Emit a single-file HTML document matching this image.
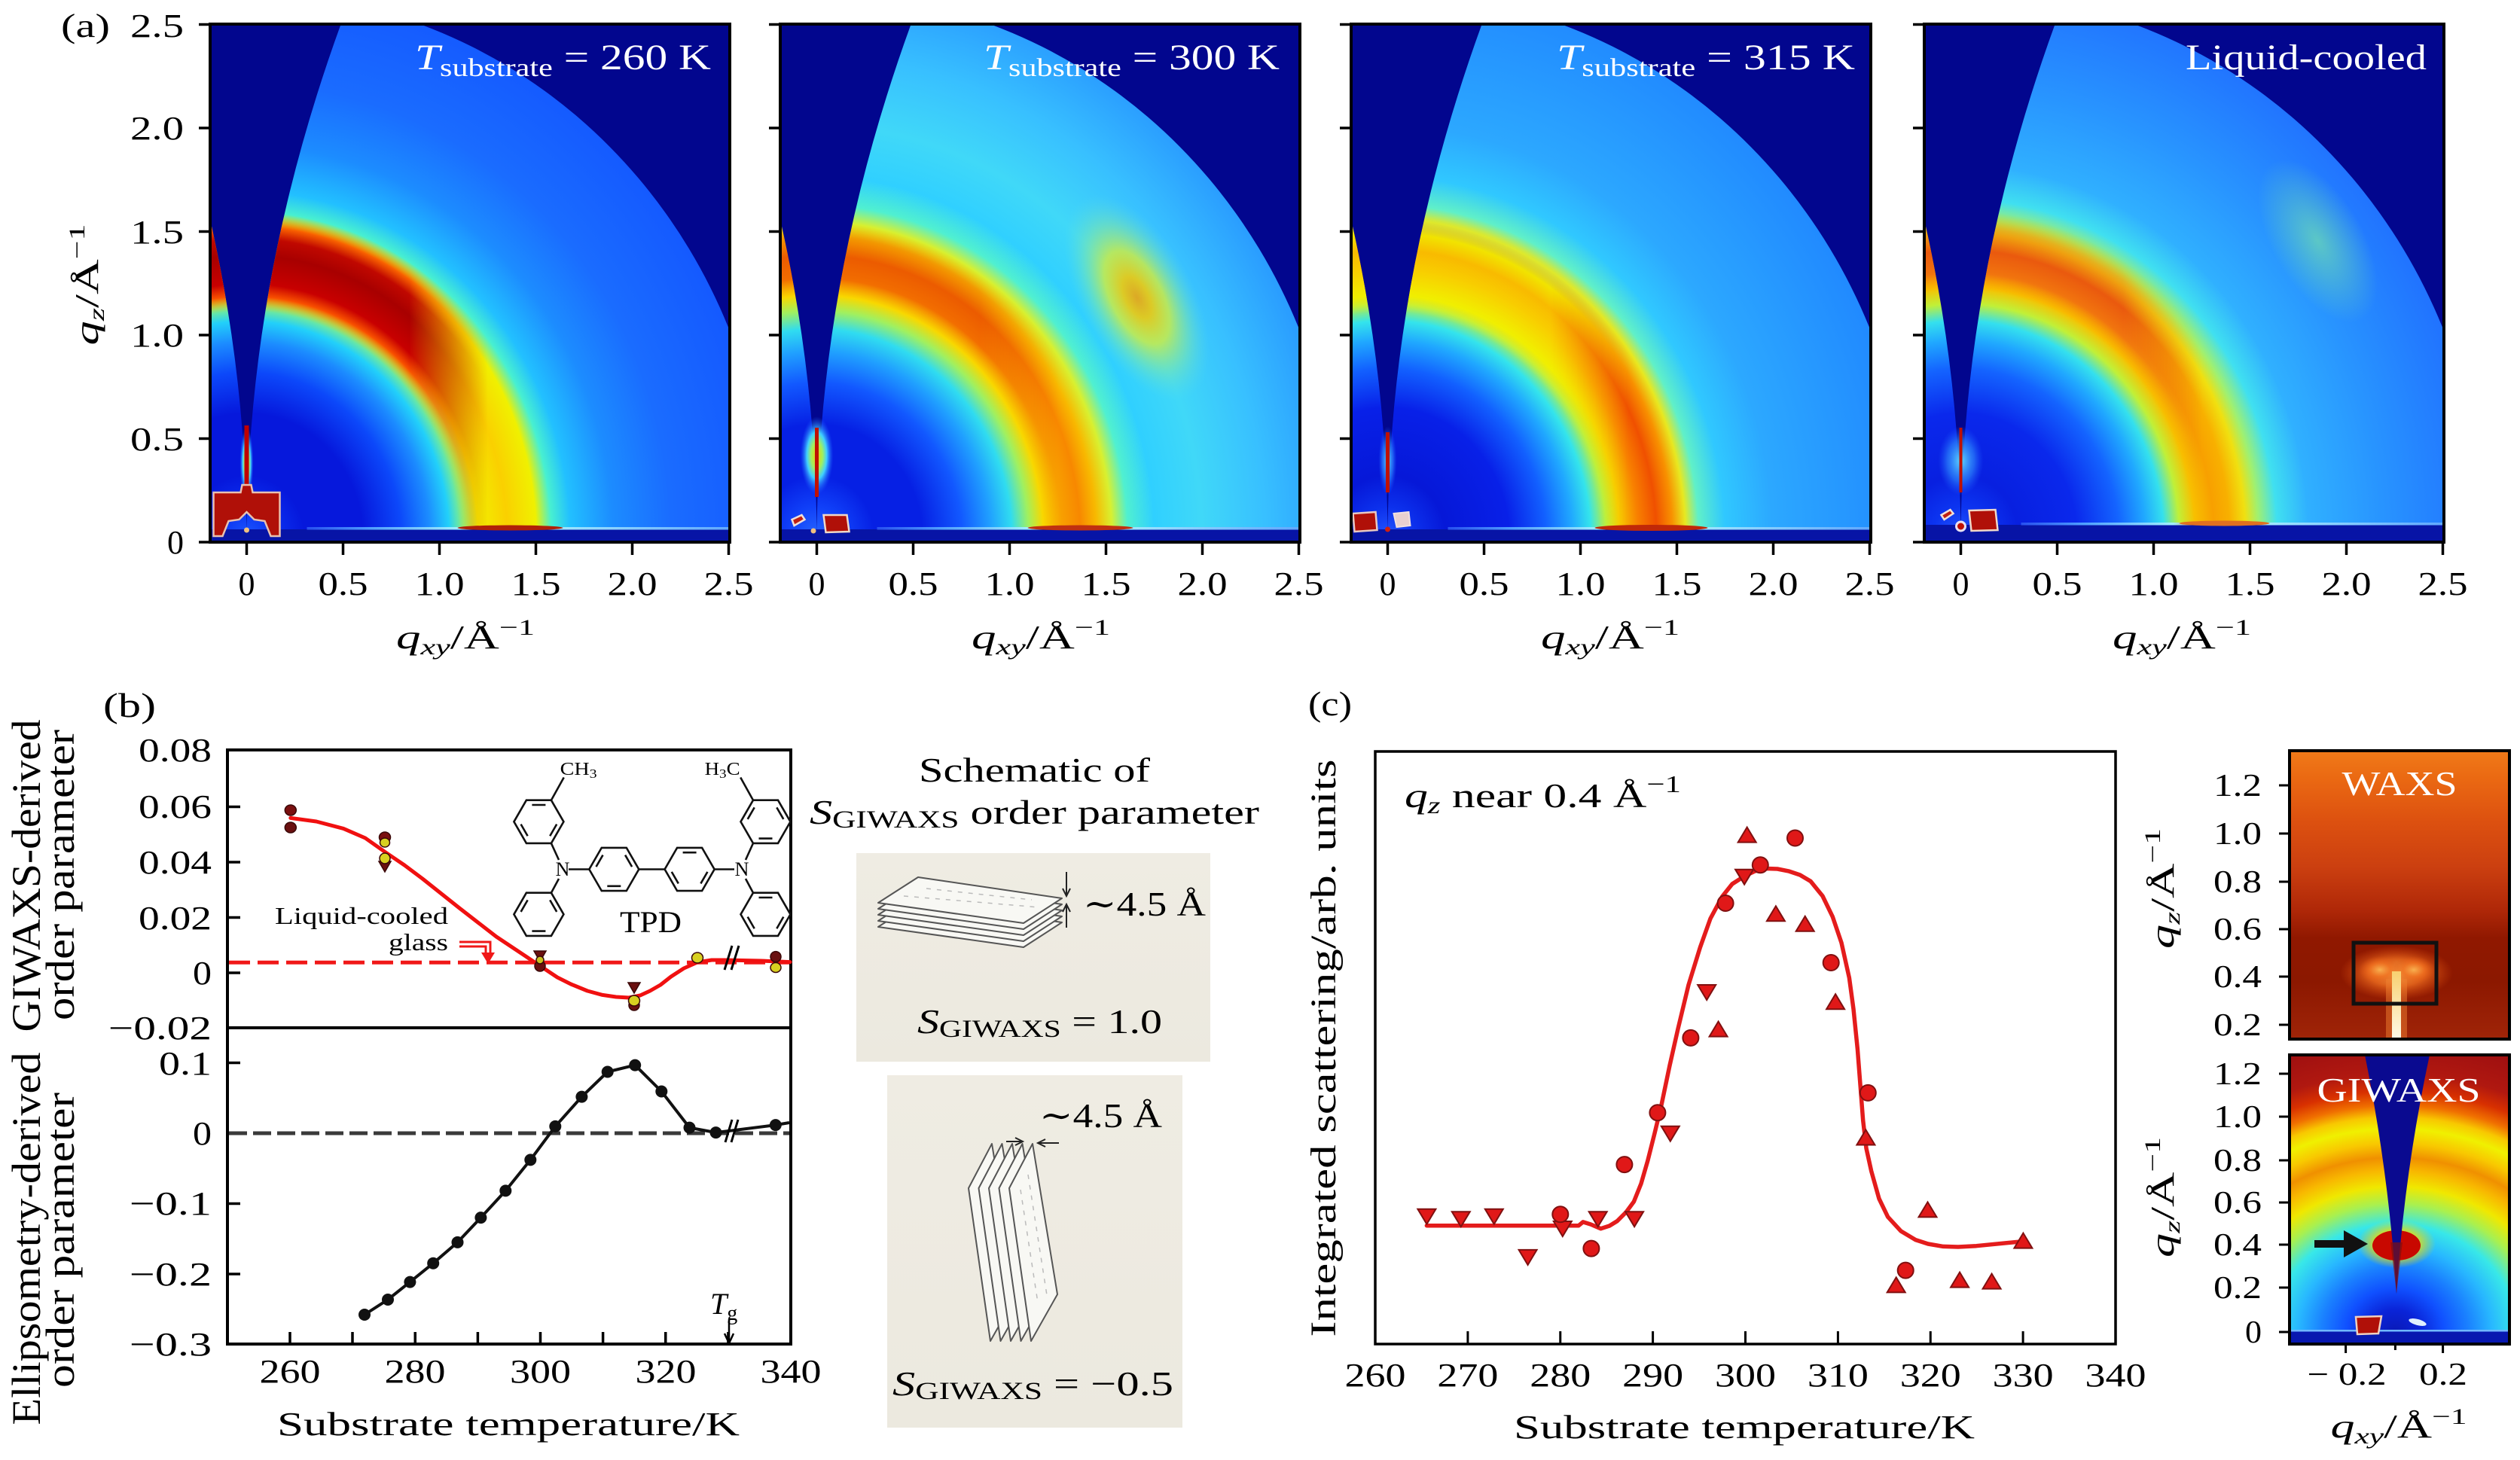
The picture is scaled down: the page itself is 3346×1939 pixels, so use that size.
<!DOCTYPE html>
<html><head><meta charset="utf-8">
<style>
html,body{margin:0;padding:0;background:#fff;}
svg{display:block;}
text{font-family:"Liberation Serif","DejaVu Serif",serif;}
</style></head>
<body>
<svg xmlns="http://www.w3.org/2000/svg" width="3346" height="1939" viewBox="0 0 3346 1939">
<defs>
 <clipPath id="cpA"><rect x="-48.5" y="32" width="690" height="688"/></clipPath>
 <path id="reg" d="M-200,720 L-200,32.5 L-125,32.5 Q0,376.25 0,720 Q0,376.25 125,32.5 L130,20 L194,20 A695,729 0 0 1 695,720 Z"/>
 <linearGradient id="lm" gradientUnits="userSpaceOnUse" x1="0" y1="0" x2="400" y2="0">
  <stop offset="0" stop-color="#fff"/><stop offset="0.54" stop-color="#fff"/><stop offset="0.8" stop-color="#000"/><stop offset="1" stop-color="#000"/>
 </linearGradient>
 <mask id="mk" maskUnits="userSpaceOnUse" x="-300" y="0" width="1100" height="760"><rect x="-300" y="0" width="1100" height="760" fill="url(#lm)"/></mask>

 <radialGradient id="g1" gradientUnits="userSpaceOnUse" cx="0" cy="714" r="700" fx="0" fy="714" gradientTransform="translate(0 714) scale(1 1.07) translate(0 -714)">
  <stop offset="0" stop-color="#1c58ff"/><stop offset="0.055" stop-color="#0a30f0"/><stop offset="0.11" stop-color="#0618dc"/><stop offset="0.22" stop-color="#0618dc"/>
  <stop offset="0.293" stop-color="#0c48fa"/><stop offset="0.347" stop-color="#1c8cff"/><stop offset="0.384" stop-color="#22d0fa"/><stop offset="0.413" stop-color="#8ef478"/>
  <stop offset="0.439" stop-color="#f2f000"/><stop offset="0.494" stop-color="#fad000"/><stop offset="0.549" stop-color="#f0f000"/><stop offset="0.578" stop-color="#48f0d0"/>
  <stop offset="0.614" stop-color="#22c0ff"/><stop offset="0.695" stop-color="#1c8cff"/><stop offset="0.805" stop-color="#1a6cff"/><stop offset="1" stop-color="#1458ff"/>
 </radialGradient>
 <radialGradient id="o1" gradientUnits="userSpaceOnUse" cx="0" cy="714" r="700" fx="0" fy="714" gradientTransform="translate(0 714) scale(1 1.07) translate(0 -714)">
  <stop offset="0.402" stop-color="#ffc000" stop-opacity="0"/><stop offset="0.428" stop-color="#f85000"/><stop offset="0.45" stop-color="#c80000"/>
  <stop offset="0.5" stop-color="#a80000"/><stop offset="0.53" stop-color="#c00800"/><stop offset="0.552" stop-color="#f86000"/><stop offset="0.578" stop-color="#f8d000" stop-opacity="0"/>
 </radialGradient>

 <radialGradient id="g2" gradientUnits="userSpaceOnUse" cx="0" cy="714" r="700" fx="0" fy="714" gradientTransform="translate(0 714) scale(1 1.07) translate(0 -714)">
  <stop offset="0" stop-color="#2868ff"/><stop offset="0.055" stop-color="#1040f8"/><stop offset="0.11" stop-color="#0620e4"/><stop offset="0.2" stop-color="#0620e4"/>
  <stop offset="0.275" stop-color="#1258ff"/><stop offset="0.33" stop-color="#20a0ff"/><stop offset="0.37" stop-color="#30dcf0"/><stop offset="0.402" stop-color="#a0f060"/>
  <stop offset="0.43" stop-color="#f8d800"/><stop offset="0.465" stop-color="#f8a000"/><stop offset="0.5" stop-color="#f88800"/><stop offset="0.53" stop-color="#f8b800"/>
  <stop offset="0.56" stop-color="#d8f030"/><stop offset="0.59" stop-color="#50f0d0"/><stop offset="0.64" stop-color="#30d0ff"/><stop offset="0.73" stop-color="#40d8f8"/>
  <stop offset="0.85" stop-color="#38c0ff"/><stop offset="1" stop-color="#2898ff"/>
 </radialGradient>
 <radialGradient id="o2" gradientUnits="userSpaceOnUse" cx="0" cy="714" r="700" fx="0" fy="714" gradientTransform="translate(0 714) scale(1 1.07) translate(0 -714)">
  <stop offset="0.43" stop-color="#f8a000" stop-opacity="0"/><stop offset="0.46" stop-color="#f06000" stop-opacity="0.8"/><stop offset="0.5" stop-color="#e85000" stop-opacity="0.8"/>
  <stop offset="0.535" stop-color="#f08000" stop-opacity="0.6"/><stop offset="0.56" stop-color="#f0c000" stop-opacity="0"/>
 </radialGradient>

 <radialGradient id="g3" gradientUnits="userSpaceOnUse" cx="0" cy="714" r="700" fx="0" fy="714" gradientTransform="translate(0 714) scale(1 1.07) translate(0 -714)">
  <stop offset="0" stop-color="#2458ff"/><stop offset="0.055" stop-color="#0c30ec"/><stop offset="0.11" stop-color="#0618d8"/><stop offset="0.23" stop-color="#0820e8"/>
  <stop offset="0.3" stop-color="#1260ff"/><stop offset="0.35" stop-color="#20a8ff"/><stop offset="0.385" stop-color="#34e4ec"/><stop offset="0.415" stop-color="#b8f040"/>
  <stop offset="0.44" stop-color="#f8c800"/><stop offset="0.475" stop-color="#f88000"/><stop offset="0.51" stop-color="#f05000"/><stop offset="0.54" stop-color="#f89000"/>
  <stop offset="0.565" stop-color="#e8e820"/><stop offset="0.59" stop-color="#60f0c8"/><stop offset="0.64" stop-color="#30c8ff"/><stop offset="0.73" stop-color="#2ca8ff"/>
  <stop offset="1" stop-color="#2088ff"/>
 </radialGradient>
 <radialGradient id="o3" gradientUnits="userSpaceOnUse" cx="0" cy="714" r="700" fx="0" fy="714" gradientTransform="translate(0 714) scale(1 1.07) translate(0 -714)">
  <stop offset="0.4" stop-color="#d0f040" stop-opacity="0"/><stop offset="0.43" stop-color="#f0f000" stop-opacity="0.95"/><stop offset="0.48" stop-color="#f8d000" stop-opacity="0.95"/>
  <stop offset="0.51" stop-color="#f8c000" stop-opacity="0.95"/><stop offset="0.54" stop-color="#f0e800" stop-opacity="0.95"/><stop offset="0.57" stop-color="#a0f080" stop-opacity="0"/>
 </radialGradient>

 <radialGradient id="g4" gradientUnits="userSpaceOnUse" cx="0" cy="714" r="700" fx="0" fy="714" gradientTransform="translate(0 714) scale(1 1.07) translate(0 -714)">
  <stop offset="0" stop-color="#2458ff"/><stop offset="0.055" stop-color="#0c34f0"/><stop offset="0.11" stop-color="#0820e0"/><stop offset="0.22" stop-color="#0a28ec"/>
  <stop offset="0.3" stop-color="#1464ff"/><stop offset="0.35" stop-color="#20a8ff"/><stop offset="0.385" stop-color="#34e0ee"/><stop offset="0.415" stop-color="#c0f038"/>
  <stop offset="0.445" stop-color="#f8c000"/><stop offset="0.48" stop-color="#f8a000"/><stop offset="0.51" stop-color="#f8b000"/><stop offset="0.54" stop-color="#f0e010"/>
  <stop offset="0.565" stop-color="#a0f070"/><stop offset="0.6" stop-color="#40e0f0"/><stop offset="0.66" stop-color="#30b0ff"/><stop offset="0.8" stop-color="#2894ff"/>
  <stop offset="1" stop-color="#2070ff"/>
 </radialGradient>
 <radialGradient id="o4" gradientUnits="userSpaceOnUse" cx="0" cy="714" r="700" fx="0" fy="714" gradientTransform="translate(0 714) scale(1 1.07) translate(0 -714)">
  <stop offset="0.44" stop-color="#f8a000" stop-opacity="0"/><stop offset="0.47" stop-color="#f07010" stop-opacity="0.9"/><stop offset="0.51" stop-color="#e85010" stop-opacity="0.9"/>
  <stop offset="0.55" stop-color="#f09010" stop-opacity="0.6"/><stop offset="0.58" stop-color="#f0c000" stop-opacity="0"/>
 </radialGradient>

 <radialGradient id="blob2">
  <stop offset="0" stop-color="#f8a000" stop-opacity="0.85"/><stop offset="0.2" stop-color="#f8c800" stop-opacity="0.85"/><stop offset="0.45" stop-color="#e8f020" stop-opacity="0.7"/>
  <stop offset="0.72" stop-color="#a0f080" stop-opacity="0.35"/><stop offset="1" stop-color="#60e0e0" stop-opacity="0"/>
 </radialGradient>
 <radialGradient id="blob4">
  <stop offset="0" stop-color="#80f0a0" stop-opacity="0.6"/><stop offset="1" stop-color="#80f0a0" stop-opacity="0"/>
 </radialGradient>
 <radialGradient id="halo">
  <stop offset="0" stop-color="#f0d000"/><stop offset="0.35" stop-color="#a0f060"/><stop offset="0.6" stop-color="#40d0ff"/><stop offset="1" stop-color="#2060ff" stop-opacity="0"/>
 </radialGradient>
 <radialGradient id="haloB">
  <stop offset="0" stop-color="#60d8ff"/><stop offset="0.6" stop-color="#3090ff" stop-opacity="0.6"/><stop offset="1" stop-color="#2060ff" stop-opacity="0"/>
 </radialGradient>
 <linearGradient id="hz" gradientUnits="userSpaceOnUse" x1="80" y1="0" x2="641.5" y2="0">
  <stop offset="0" stop-color="#2850f0"/><stop offset="0.15" stop-color="#50a0ff"/><stop offset="0.359" stop-color="#a0f0ff"/><stop offset="0.427" stop-color="#e08030"/>
  <stop offset="0.47" stop-color="#c03010"/><stop offset="0.518" stop-color="#e08030"/><stop offset="0.587" stop-color="#a0e8ff"/><stop offset="1" stop-color="#60a8ff"/>
 </linearGradient>

 <linearGradient id="waxs" x1="0" y1="0" x2="0" y2="1">
  <stop offset="0" stop-color="#f07a18"/><stop offset="0.1" stop-color="#ea6812"/><stop offset="0.25" stop-color="#dc5010"/><stop offset="0.4" stop-color="#cc4010"/>
  <stop offset="0.55" stop-color="#b02808"/><stop offset="0.65" stop-color="#901800"/><stop offset="0.8" stop-color="#8c1800"/><stop offset="1" stop-color="#a02408"/>
 </linearGradient>
 <radialGradient id="wglow">
  <stop offset="0" stop-color="#f8b050"/><stop offset="0.5" stop-color="#f07020" stop-opacity="0.8"/><stop offset="1" stop-color="#e05010" stop-opacity="0"/>
 </radialGradient>
 <linearGradient id="wstripe" x1="0" y1="0" x2="0" y2="1">
  <stop offset="0" stop-color="#f8d070"/><stop offset="1" stop-color="#fffbe8"/>
 </linearGradient>
 <radialGradient id="gix" gradientUnits="userSpaceOnUse" cx="3180" cy="1768" r="435" fx="3180" fy="1768" gradientTransform="translate(3180 1768) scale(1 0.884) translate(-3180 -1768)">
  <stop offset="0" stop-color="#0a1ab8"/><stop offset="0.074" stop-color="#0a24d8"/><stop offset="0.148" stop-color="#1050ff"/><stop offset="0.222" stop-color="#1a80ff"/>
  <stop offset="0.296" stop-color="#28b8ff"/><stop offset="0.37" stop-color="#38e8e8"/><stop offset="0.44" stop-color="#a8f050"/><stop offset="0.5" stop-color="#f0e800"/>
  <stop offset="0.555" stop-color="#f8b800"/><stop offset="0.6" stop-color="#f09000"/><stop offset="0.65" stop-color="#f8c800"/><stop offset="0.7" stop-color="#f0f000"/>
  <stop offset="0.74" stop-color="#f8c800"/><stop offset="0.78" stop-color="#f07000"/><stop offset="0.83" stop-color="#d83000"/><stop offset="0.89" stop-color="#b01810"/>
  <stop offset="1" stop-color="#a01010"/>
 </radialGradient>
 <radialGradient id="gblob">
  <stop offset="0" stop-color="#f8a000"/><stop offset="0.5" stop-color="#f0e000" stop-opacity="0.9"/><stop offset="1" stop-color="#f0e000" stop-opacity="0"/>
 </radialGradient>
 <linearGradient id="beige" x1="0" y1="0" x2="0" y2="1"><stop offset="0" stop-color="#efece3"/><stop offset="1" stop-color="#ece9df"/></linearGradient>

 <g id="hexA" fill="none" stroke="#111" stroke-width="2.6">
  <polygon points="-33,0 -16.5,-28.6 16.5,-28.6 33,0 16.5,28.6 -16.5,28.6"/>
  <path d="M-9,-22.3 L9,-22.3 M23.8,3.35 L14.8,18.96 M-14.8,18.96 L-23.8,3.35"/>
 </g>
 <g id="hexB" fill="none" stroke="#111" stroke-width="2.6">
  <polygon points="-33,0 -16.5,-28.6 16.5,-28.6 33,0 16.5,28.6 -16.5,28.6"/>
  <path d="M14.8,-18.96 L23.8,-3.35 M9,22.3 L-9,22.3 M-23.8,-3.35 L-14.8,-18.96"/>
 </g>
</defs>

<rect x="0" y="0" width="3346" height="1939" fill="#fff"/>

<!-- ===================== PANEL (a) ===================== -->
<g transform="translate(327.5,0)">
 <g clip-path="url(#cpA)">
  <rect x="-60" y="20" width="720" height="710" fill="#02068e"/>
  <use href="#reg" fill="url(#g1)"/>
  <use href="#reg" fill="url(#o1)" mask="url(#mk)"/>
  <rect x="-60" y="703" width="720" height="20" fill="#0714a6"/>
  <rect x="80" y="700" width="562" height="3.5" fill="url(#hz)"/>
  <ellipse cx="350" cy="701" rx="70" ry="3.5" fill="#b02008"/>
  <ellipse cx="0" cy="615" rx="9" ry="48" fill="url(#halo)"/>
  <rect x="-3" y="565" width="6" height="92" fill="#c00000"/>
  <path d="M-44,654 L-8,654 L-6,644 L6,644 L8,654 L44,654 L44,712 L32,712 L24,692 L10,690 L0,680 L-10,690 L-24,692 L-32,712 L-44,712 Z" fill="#b01008" stroke="#e8c0b0" stroke-width="2.5"/>
  <circle cx="0" cy="704" r="3.5" fill="#f0c080"/>
 </g>
 <text x="223.5" y="92" fill="#fff" font-size="48" textLength="393" lengthAdjust="spacingAndGlyphs"><tspan font-style="italic">T</tspan><tspan font-size="34" dy="9">substrate</tspan><tspan dy="-9"> = 260 K</tspan></text>
</g>

<g transform="translate(1084.5,0)">
 <g clip-path="url(#cpA)">
  <rect x="-60" y="20" width="720" height="710" fill="#02068e"/>
  <use href="#reg" fill="url(#g2)"/>
  <use href="#reg" fill="url(#o2)" mask="url(#mk)"/>
  <ellipse cx="425" cy="395" rx="75" ry="150" transform="rotate(-28 425 395)" fill="url(#blob2)"/>
  <rect x="-60" y="703" width="720" height="20" fill="#0714a6"/>
  <rect x="80" y="700" width="562" height="3.5" fill="url(#hz)"/>
  <ellipse cx="350" cy="701" rx="70" ry="3.5" fill="#c03010"/>
  <ellipse cx="0" cy="605" rx="22" ry="52" fill="url(#halo)"/>
  <rect x="-2.5" y="568" width="5" height="92" fill="#c01000"/>
  <path d="M9,684 L40,684 L43,706 L12,707 Z" fill="#b01008" stroke="#f0d8c8" stroke-width="2.5"/>
  <path d="M-33,690 L-20,684 L-16,690 L-30,698 Z" fill="#c02010" stroke="#f0e0d8" stroke-width="2.5"/>
  <circle cx="-4.5" cy="705" r="3.5" fill="#f0c080"/>
 </g>
 <text x="221.5" y="92" fill="#fff" font-size="48" textLength="393" lengthAdjust="spacingAndGlyphs"><tspan font-style="italic">T</tspan><tspan font-size="34" dy="9">substrate</tspan><tspan dy="-9"> = 300 K</tspan></text>
</g>

<g transform="translate(1842.5,0)">
 <g clip-path="url(#cpA)">
  <rect x="-60" y="20" width="720" height="710" fill="#02068e"/>
  <use href="#reg" fill="url(#g3)"/>
  <use href="#reg" fill="url(#o3)" mask="url(#mk)"/>
  <rect x="-60" y="703" width="720" height="20" fill="#0714a6"/>
  <rect x="80" y="700" width="562" height="3.5" fill="url(#hz)"/>
  <ellipse cx="350" cy="701" rx="75" ry="4" fill="#c02808"/>
  <ellipse cx="0" cy="612" rx="12" ry="46" fill="url(#haloB)"/>
  <rect x="-2.5" y="574" width="5" height="80" fill="#c01000"/>
  <path d="M-46,682 L-16,680 L-14,704 L-44,706 Z" fill="#b01008" stroke="#e8c8c0" stroke-width="2.5"/>
  <path d="M8,682 L28,680 L30,698 L12,700 Z" fill="#e8d0d0" stroke="#f0e0e0" stroke-width="2"/>
  <circle cx="0" cy="703" r="3.5" fill="#d02010"/>
 </g>
 <text x="224.5" y="92" fill="#fff" font-size="48" textLength="396" lengthAdjust="spacingAndGlyphs"><tspan font-style="italic">T</tspan><tspan font-size="34" dy="9">substrate</tspan><tspan dy="-9"> = 315 K</tspan></text>
</g>

<g transform="translate(2603.5,0)">
 <g clip-path="url(#cpA)">
  <rect x="-60" y="20" width="720" height="710" fill="#02068e"/>
  <use href="#reg" fill="url(#g4)"/>
  <use href="#reg" fill="url(#o4)" mask="url(#mk)"/>
  <ellipse cx="474" cy="320" rx="60" ry="120" transform="rotate(-30 474 320)" fill="url(#blob4)"/>
  <rect x="-60" y="697" width="720" height="26" fill="#0714a6"/>
  <rect x="80" y="694" width="562" height="3.5" fill="url(#hz)"/>
  <ellipse cx="350" cy="695" rx="60" ry="3.5" fill="#e07020"/>
  <ellipse cx="0" cy="612" rx="30" ry="46" fill="url(#haloB)"/>
  <rect x="-2" y="568" width="4" height="86" fill="#c01000"/>
  <path d="M-26,684 L-14,677 L-10,682 L-22,690 Z" fill="#c02010" stroke="#f0e0d8" stroke-width="2.5"/>
  <circle cx="0" cy="699" r="6" fill="#c01000" stroke="#e8e0f0" stroke-width="3"/>
  <path d="M11,678 L46,677 L49,704 L14,705 Z" fill="#b01008" stroke="#f0d8c8" stroke-width="2.5"/>
 </g>
 <text x="298.5" y="92" fill="#fff" font-size="48" textLength="320" lengthAdjust="spacingAndGlyphs">Liquid-cooled</text>
</g>

<g fill="none" stroke="#000" stroke-width="4">
 <rect x="279" y="32" width="690" height="688"/>
 <rect x="1036" y="32" width="690" height="688"/>
 <rect x="1794" y="32" width="690" height="688"/>
 <rect x="2555" y="32" width="690" height="688"/>
</g>
<g stroke="#000" stroke-width="3.5">
 <path d="M264,720 H279 M264,582.5 H279 M264,445 H279 M264,307.5 H279 M264,170 H279 M264,32.5 H279"/>
 <path d="M1021,720 H1036 M1021,582.5 H1036 M1021,445 H1036 M1021,307.5 H1036 M1021,170 H1036 M1021,32.5 H1036"/>
 <path d="M1779,720 H1794 M1779,582.5 H1794 M1779,445 H1794 M1779,307.5 H1794 M1779,170 H1794 M1779,32.5 H1794"/>
 <path d="M2540,720 H2555 M2540,582.5 H2555 M2540,445 H2555 M2540,307.5 H2555 M2540,170 H2555 M2540,32.5 H2555"/>
 <path d="M327.5,720 V737 M455.5,720 V737 M583.5,720 V737 M711.5,720 V737 M839.5,720 V737 M967.5,720 V737"/>
 <path d="M1084.5,720 V737 M1212.5,720 V737 M1340.5,720 V737 M1468.5,720 V737 M1596.5,720 V737 M1724.5,720 V737"/>
 <path d="M1842.5,720 V737 M1970.5,720 V737 M2098.5,720 V737 M2226.5,720 V737 M2354.5,720 V737 M2482.5,720 V737"/>
 <path d="M2603.5,720 V737 M2731.5,720 V737 M2859.5,720 V737 M2987.5,720 V737 M3115.5,720 V737 M3243.5,720 V737"/>
</g>
<g font-size="44" fill="#000">
 <text x="81" y="49" textLength="65" lengthAdjust="spacingAndGlyphs">(a)</text>
 <g text-anchor="end">
  <text x="244" y="49" textLength="71" lengthAdjust="spacingAndGlyphs">2.5</text>
  <text x="244" y="185" textLength="71" lengthAdjust="spacingAndGlyphs">2.0</text>
  <text x="244" y="323" textLength="71" lengthAdjust="spacingAndGlyphs">1.5</text>
  <text x="244" y="460" textLength="71" lengthAdjust="spacingAndGlyphs">1.0</text>
  <text x="244" y="598" textLength="71" lengthAdjust="spacingAndGlyphs">0.5</text>
  <text x="244" y="735" textLength="22" lengthAdjust="spacingAndGlyphs">0</text>
 </g>
 <g text-anchor="middle">
  <text x="327.5" y="790" textLength="22" lengthAdjust="spacingAndGlyphs">0</text>
  <text x="455.5" y="790" textLength="66" lengthAdjust="spacingAndGlyphs">0.5</text>
  <text x="583.5" y="790" textLength="66" lengthAdjust="spacingAndGlyphs">1.0</text>
  <text x="711.5" y="790" textLength="66" lengthAdjust="spacingAndGlyphs">1.5</text>
  <text x="839.5" y="790" textLength="66" lengthAdjust="spacingAndGlyphs">2.0</text>
  <text x="967.5" y="790" textLength="66" lengthAdjust="spacingAndGlyphs">2.5</text>

  <text x="1084.5" y="790" textLength="22" lengthAdjust="spacingAndGlyphs">0</text>
  <text x="1212.5" y="790" textLength="66" lengthAdjust="spacingAndGlyphs">0.5</text>
  <text x="1340.5" y="790" textLength="66" lengthAdjust="spacingAndGlyphs">1.0</text>
  <text x="1468.5" y="790" textLength="66" lengthAdjust="spacingAndGlyphs">1.5</text>
  <text x="1596.5" y="790" textLength="66" lengthAdjust="spacingAndGlyphs">2.0</text>
  <text x="1724.5" y="790" textLength="66" lengthAdjust="spacingAndGlyphs">2.5</text>

  <text x="1842.5" y="790" textLength="22" lengthAdjust="spacingAndGlyphs">0</text>
  <text x="1970.5" y="790" textLength="66" lengthAdjust="spacingAndGlyphs">0.5</text>
  <text x="2098.5" y="790" textLength="66" lengthAdjust="spacingAndGlyphs">1.0</text>
  <text x="2226.5" y="790" textLength="66" lengthAdjust="spacingAndGlyphs">1.5</text>
  <text x="2354.5" y="790" textLength="66" lengthAdjust="spacingAndGlyphs">2.0</text>
  <text x="2482.5" y="790" textLength="66" lengthAdjust="spacingAndGlyphs">2.5</text>

  <text x="2603.5" y="790" textLength="22" lengthAdjust="spacingAndGlyphs">0</text>
  <text x="2731.5" y="790" textLength="66" lengthAdjust="spacingAndGlyphs">0.5</text>
  <text x="2859.5" y="790" textLength="66" lengthAdjust="spacingAndGlyphs">1.0</text>
  <text x="2987.5" y="790" textLength="66" lengthAdjust="spacingAndGlyphs">1.5</text>
  <text x="3115.5" y="790" textLength="66" lengthAdjust="spacingAndGlyphs">2.0</text>
  <text x="3243.5" y="790" textLength="66" lengthAdjust="spacingAndGlyphs">2.5</text>
 </g>
 <g text-anchor="middle">
  <text x="618" y="861" textLength="184" lengthAdjust="spacingAndGlyphs"><tspan font-style="italic">q</tspan><tspan font-style="italic" font-size="30" dy="8">xy</tspan><tspan dy="-8">/Å</tspan><tspan font-size="30" dy="-18">−1</tspan></text>
  <text x="1382" y="861" textLength="184" lengthAdjust="spacingAndGlyphs"><tspan font-style="italic">q</tspan><tspan font-style="italic" font-size="30" dy="8">xy</tspan><tspan dy="-8">/Å</tspan><tspan font-size="30" dy="-18">−1</tspan></text>
  <text x="2138" y="861" textLength="184" lengthAdjust="spacingAndGlyphs"><tspan font-style="italic">q</tspan><tspan font-style="italic" font-size="30" dy="8">xy</tspan><tspan dy="-8">/Å</tspan><tspan font-size="30" dy="-18">−1</tspan></text>
  <text x="2897" y="861" textLength="184" lengthAdjust="spacingAndGlyphs"><tspan font-style="italic">q</tspan><tspan font-style="italic" font-size="30" dy="8">xy</tspan><tspan dy="-8">/Å</tspan><tspan font-size="30" dy="-18">−1</tspan></text>
  <text transform="translate(130,378) rotate(-90)" x="0" y="0" textLength="161" lengthAdjust="spacingAndGlyphs"><tspan font-style="italic">q</tspan><tspan font-style="italic" font-size="30" dy="8">z</tspan><tspan dy="-8">/Å</tspan><tspan font-size="30" dy="-18">−1</tspan></text>
 </g>
</g>

<!-- ===================== PANEL (b) ===================== -->
<g fill="#000">
 <text x="137" y="952" font-size="46" textLength="70" lengthAdjust="spacingAndGlyphs">(b)</text>
 <g font-size="54" text-anchor="middle">
  <text transform="translate(53,1163) rotate(-90)" textLength="415" lengthAdjust="spacingAndGlyphs">GIWAXS-derived</text>
  <text transform="translate(98,1162) rotate(-90)" textLength="386" lengthAdjust="spacingAndGlyphs">order parameter</text>
  <text transform="translate(53,1645) rotate(-90)" textLength="495" lengthAdjust="spacingAndGlyphs">Ellipsometry-derived</text>
  <text transform="translate(98,1647) rotate(-90)" textLength="392" lengthAdjust="spacingAndGlyphs">order parameter</text>
 </g>
 <g font-size="44" text-anchor="end">
  <text x="281" y="1011" textLength="97" lengthAdjust="spacingAndGlyphs">0.08</text>
  <text x="281" y="1086" textLength="97" lengthAdjust="spacingAndGlyphs">0.06</text>
  <text x="281" y="1160" textLength="97" lengthAdjust="spacingAndGlyphs">0.04</text>
  <text x="281" y="1234" textLength="97" lengthAdjust="spacingAndGlyphs">0.02</text>
  <text x="281" y="1307" textLength="25" lengthAdjust="spacingAndGlyphs">0</text>
  <text x="281" y="1380" textLength="137" lengthAdjust="spacingAndGlyphs">−0.02</text>
  <text x="281" y="1427" textLength="70" lengthAdjust="spacingAndGlyphs">0.1</text>
  <text x="281" y="1520" textLength="25" lengthAdjust="spacingAndGlyphs">0</text>
  <text x="281" y="1613" textLength="109" lengthAdjust="spacingAndGlyphs">−0.1</text>
  <text x="281" y="1707" textLength="109" lengthAdjust="spacingAndGlyphs">−0.2</text>
  <text x="281" y="1800" textLength="109" lengthAdjust="spacingAndGlyphs">−0.3</text>
 </g>
 <g font-size="44" text-anchor="middle">
  <text x="385" y="1836" textLength="81" lengthAdjust="spacingAndGlyphs">260</text>
  <text x="551" y="1836" textLength="81" lengthAdjust="spacingAndGlyphs">280</text>
  <text x="717.5" y="1836" textLength="81" lengthAdjust="spacingAndGlyphs">300</text>
  <text x="884" y="1836" textLength="81" lengthAdjust="spacingAndGlyphs">320</text>
  <text x="1050" y="1836" textLength="81" lengthAdjust="spacingAndGlyphs">340</text>
  <text x="675" y="1906" textLength="614" lengthAdjust="spacingAndGlyphs">Substrate temperature/K</text>
 </g>
</g>
<rect x="302" y="996" width="748" height="789" fill="none" stroke="#000" stroke-width="4"/>
<line x1="302" y1="1365" x2="1050" y2="1365" stroke="#000" stroke-width="4"/>
<g stroke="#000" stroke-width="3.5">
 <path d="M302,1071.5 H319 M302,1145 H319 M302,1218.5 H319 M302,1292 H319"/>
 <path d="M302,1411.5 H319 M302,1505 H319 M302,1598.5 H319 M302,1692 H319"/>
 <path d="M385,1785 V1769 M468,1785 V1769 M551.25,1785 V1769 M634.4,1785 V1769 M717.5,1785 V1769 M800.6,1785 V1769 M883.75,1785 V1769 M966.9,1785 V1769"/>
</g>
<line x1="304" y1="1278.3" x2="1048" y2="1278.3" stroke="#f01818" stroke-width="5" stroke-dasharray="28 10"/>
<polyline fill="none" stroke="#f01010" stroke-width="5" stroke-linejoin="round" stroke-linecap="round"
 points="385.8,1086.4 420,1091 456,1100.4 485,1113 512,1132 537,1149 561,1167 610,1206 659,1244 701,1272 722,1286 740,1298 758,1307 780,1316 800,1321.4 818,1324 835,1325 850,1322 863,1316 877,1308 891,1297 908,1286 926,1278 945,1275 961,1275 1010,1276 1049,1277.6"/>
<g stroke="#3a0808" stroke-width="1.5">
 <ellipse cx="385.8" cy="1076" rx="7.5" ry="7" fill="#7a1010"/>
 <ellipse cx="385.8" cy="1099" rx="7.5" ry="7" fill="#6a1010"/>
 <ellipse cx="511" cy="1112" rx="7.5" ry="7" fill="#7a1010"/>
 <ellipse cx="511" cy="1119" rx="6.5" ry="6" fill="#d8d020"/>
 <polygon points="503,1144 519,1144 511,1158" fill="#6a1010"/>
 <ellipse cx="511" cy="1140" rx="7" ry="7" fill="#d8d020"/>
 <polygon points="709,1263 725,1263 717,1277" fill="#6a1010"/>
 <ellipse cx="717" cy="1283" rx="7" ry="7" fill="#6a1010"/>
 <ellipse cx="717" cy="1275" rx="5" ry="5" fill="#c8c020"/>
 <polygon points="834,1305 850,1305 842,1319" fill="#6a1010"/>
 <ellipse cx="842" cy="1335" rx="7" ry="7" fill="#6a1010"/>
 <ellipse cx="842" cy="1329" rx="7.5" ry="7" fill="#d8d020"/>
 <ellipse cx="926" cy="1272" rx="7.5" ry="7" fill="#d8d020"/>
 <ellipse cx="1030" cy="1270.6" rx="7" ry="7" fill="#6a1010"/>
 <ellipse cx="1030" cy="1285" rx="7" ry="6.5" fill="#d8d020"/>
</g>
<path d="M962,1288 L972,1256 M971,1288 L981,1256" stroke="#000" stroke-width="3"/>
<g font-size="32" fill="#000">
 <text x="365" y="1227" textLength="230" lengthAdjust="spacingAndGlyphs">Liquid-cooled</text>
 <text x="516" y="1262" textLength="79" lengthAdjust="spacingAndGlyphs">glass</text>
</g>
<path d="M610,1254 L648,1254 L648,1266" fill="none" stroke="#f01818" stroke-width="9"/>
<path d="M610,1254 L648,1254 L648,1266" fill="none" stroke="#fff" stroke-width="3"/>
<polygon points="639,1265 657,1265 648,1280" fill="#f01818"/>
<use href="#hexA" x="715.4" y="1091.3"/>
<use href="#hexB" x="715.4" y="1214.3"/>
<use href="#hexB" x="815.3" y="1154.5"/>
<use href="#hexA" x="915.6" y="1154.5"/>
<use href="#hexB" x="1016.5" y="1091.3"/>
<use href="#hexA" x="1016.5" y="1214.3"/>
<g stroke="#111" stroke-width="2.6" fill="none">
 <path d="M731.9,1062.7 L748.7,1032.5 M1000,1062.7 L983.2,1032.5"/>
 <path d="M731.9,1119.9 L742,1142 M742,1167 L731.9,1185.7 M755,1154.5 L782.3,1154.5"/>
 <path d="M848.3,1154.5 L882.6,1154.5 M948.6,1154.5 L975,1154.5"/>
 <path d="M990,1142 L1000,1119.9 M990,1167 L1000,1185.7"/>
</g>
<g fill="#000">
 <text x="747" y="1163" font-size="26" text-anchor="middle">N</text>
 <text x="985" y="1163" font-size="26" text-anchor="middle">N</text>
 <text x="743.6" y="1029" font-size="24" textLength="49" lengthAdjust="spacingAndGlyphs">CH<tspan font-size="17" dy="4">3</tspan></text>
 <text x="935.6" y="1029" font-size="24" textLength="47" lengthAdjust="spacingAndGlyphs">H<tspan font-size="17" dy="4">3</tspan><tspan dy="-4">C</tspan></text>
 <text x="864" y="1238" font-size="40" text-anchor="middle" textLength="82" lengthAdjust="spacingAndGlyphs">TPD</text>
</g>
<line x1="304" y1="1505" x2="1048" y2="1505" stroke="#3a3a3a" stroke-width="5" stroke-dasharray="24 8"/>
<polyline fill="none" stroke="#111" stroke-width="4" stroke-linejoin="round"
 points="484,1746 515,1726 544.4,1702.6 575.2,1677.7 607.5,1649.9 638.4,1617.1 671.3,1581.4 704.3,1540.4 737.3,1495.9 772.4,1456.6 806.7,1423.5 843.2,1414.6 878.3,1449.5 915.5,1497.6 950.5,1504.1 1029.8,1494.1 1048,1491"/>
<g fill="#111">
 <circle cx="484" cy="1746" r="8"/><circle cx="515" cy="1726" r="8"/><circle cx="544.4" cy="1702.6" r="8"/><circle cx="575.2" cy="1677.7" r="8"/>
 <circle cx="607.5" cy="1649.9" r="8"/><circle cx="638.4" cy="1617.1" r="8"/><circle cx="671.3" cy="1581.4" r="8"/><circle cx="704.3" cy="1540.4" r="8"/>
 <circle cx="737.3" cy="1495.9" r="8"/><circle cx="772.4" cy="1456.6" r="8"/><circle cx="806.7" cy="1423.5" r="8"/><circle cx="843.2" cy="1414.6" r="8"/>
 <circle cx="878.3" cy="1449.5" r="8"/><circle cx="915.5" cy="1497.6" r="8"/><circle cx="950.5" cy="1504.1" r="8"/><circle cx="1029.8" cy="1494.1" r="8"/>
</g>
<path d="M963,1517 L972,1487 M971,1517 L980,1487" stroke="#000" stroke-width="3"/>
<text x="943" y="1745" font-size="40" fill="#000"><tspan font-style="italic">T</tspan><tspan font-size="28" dy="8">g</tspan></text>
<path d="M968,1752 V1783 M962,1771 L968,1784 L974,1771" fill="none" stroke="#000" stroke-width="2.5"/>

<!-- ===================== Schematic ===================== -->
<g fill="#000" font-size="46">
 <text x="1220" y="1038" textLength="307" lengthAdjust="spacingAndGlyphs">Schematic of</text>
 <text x="1075" y="1094" textLength="597" lengthAdjust="spacingAndGlyphs"><tspan font-style="italic">S</tspan><tspan font-size="33" dy="5">GIWAXS</tspan><tspan dy="-5"> order parameter</tspan></text>
</g>
<rect x="1137" y="1133" width="470" height="277" fill="url(#beige)"/>
<rect x="1178" y="1428" width="392" height="468" fill="url(#beige)"/>
<g stroke="#555" stroke-width="2" fill="#f8f8f4" stroke-linejoin="round">
 <polygon points="1166,1231 1219,1197 1410,1225 1359,1258"/>
 <polygon points="1166,1223 1219,1189 1410,1217 1359,1250"/>
 <polygon points="1166,1215 1219,1181 1410,1209 1359,1242"/>
 <polygon points="1166,1207 1219,1173 1410,1201 1359,1234"/>
 <polygon points="1166,1199 1219,1165 1410,1193 1359,1226"/>
</g>
<g stroke="#bbb" stroke-width="1.5" stroke-dasharray="6 8" fill="none">
 <path d="M1200,1190 L1380,1205 M1230,1180 L1370,1195"/>
</g>
<path d="M1416,1158 V1189 M1411,1180 L1416,1190 L1421,1180 M1416,1232 V1203 M1411,1211 L1416,1201 L1421,1211" fill="none" stroke="#222" stroke-width="2"/>
<g fill="#000" font-size="46">
 <text x="1438" y="1216" textLength="163" lengthAdjust="spacingAndGlyphs">∼4.5 Å</text>
 <text x="1218" y="1372" textLength="325" lengthAdjust="spacingAndGlyphs"><tspan font-style="italic">S</tspan><tspan font-size="33" dy="5">GIWAXS</tspan><tspan dy="-5"> = 1.0</tspan></text>
</g>
<g stroke="#555" stroke-width="2" fill="#f8f8f4" stroke-linejoin="round">
 <polygon points="1286,1578 1317,1519 1350,1719 1315,1781"/>
 <polygon points="1299.5,1578 1330.5,1519 1363.5,1719 1328.5,1781"/>
 <polygon points="1313,1578 1344,1519 1377,1719 1342,1781"/>
 <polygon points="1326.5,1578 1357.5,1519 1390.5,1719 1355.5,1781"/>
 <polygon points="1340,1578 1371,1519 1404,1719 1369,1781"/>
</g>
<g stroke="#bbb" stroke-width="1.5" stroke-dasharray="6 8" fill="none">
 <path d="M1365,1560 L1390,1720 M1355,1580 L1378,1730"/>
</g>
<path d="M1406,1518 H1380 M1388,1513 L1378,1518 L1388,1523 M1336,1516 H1356 M1348,1511 L1358,1516 L1348,1521" fill="none" stroke="#222" stroke-width="2"/>
<g fill="#000" font-size="46">
 <text x="1380" y="1497" textLength="163" lengthAdjust="spacingAndGlyphs">∼4.5 Å</text>
 <text x="1185" y="1853" textLength="373" lengthAdjust="spacingAndGlyphs"><tspan font-style="italic">S</tspan><tspan font-size="33" dy="5">GIWAXS</tspan><tspan dy="-5"> = −0.5</tspan></text>
</g>

<!-- ===================== PANEL (c) ===================== -->
<g fill="#000">
 <text x="1737" y="950" font-size="46" textLength="58" lengthAdjust="spacingAndGlyphs">(c)</text>
 <text transform="translate(1773,1392) rotate(-90)" font-size="48" text-anchor="middle" textLength="767" lengthAdjust="spacingAndGlyphs">Integrated scattering/arb. units</text>
 <text x="1865" y="1072" font-size="46" textLength="367" lengthAdjust="spacingAndGlyphs"><tspan font-style="italic">q</tspan><tspan font-style="italic" font-size="32" dy="8">z</tspan><tspan dy="-8"> near 0.4 Å</tspan><tspan font-size="32" dy="-20">−1</tspan></text>
 <g font-size="44" text-anchor="middle">
  <text x="1826" y="1841" textLength="81" lengthAdjust="spacingAndGlyphs">260</text>
  <text x="1948.9" y="1841" textLength="81" lengthAdjust="spacingAndGlyphs">270</text>
  <text x="2071.75" y="1841" textLength="81" lengthAdjust="spacingAndGlyphs">280</text>
  <text x="2194.6" y="1841" textLength="81" lengthAdjust="spacingAndGlyphs">290</text>
  <text x="2317.5" y="1841" textLength="81" lengthAdjust="spacingAndGlyphs">300</text>
  <text x="2440.4" y="1841" textLength="81" lengthAdjust="spacingAndGlyphs">310</text>
  <text x="2563.25" y="1841" textLength="81" lengthAdjust="spacingAndGlyphs">320</text>
  <text x="2686.1" y="1841" textLength="81" lengthAdjust="spacingAndGlyphs">330</text>
  <text x="2809" y="1841" textLength="81" lengthAdjust="spacingAndGlyphs">340</text>
  <text x="2316" y="1910" textLength="612" lengthAdjust="spacingAndGlyphs">Substrate temperature/K</text>
 </g>
</g>
<rect x="1826" y="998" width="983" height="787" fill="none" stroke="#000" stroke-width="3.5"/>
<path d="M1948.9,1785 V1768 M2071.75,1785 V1768 M2194.6,1785 V1768 M2317.5,1785 V1768 M2440.4,1785 V1768 M2563.25,1785 V1768 M2686.1,1785 V1768" stroke="#000" stroke-width="3"/>
<polyline fill="none" stroke="#e41c1c" stroke-width="5.5" stroke-linejoin="round" stroke-linecap="round"
 points="1894.4,1627.7 2096,1627.7 2101.9,1622.9 2112,1626 2125.4,1631.7 2137,1628 2147.4,1621.6 2159,1610 2169.4,1595.9 2179,1572 2187.7,1541.9 2197,1505 2206,1467.6 2217,1415 2228,1366.3 2242,1308 2257.4,1258.2 2271,1220 2286.7,1190.7 2300,1174 2316.1,1163.7 2330,1157 2345.4,1153.5 2360,1154 2374.7,1156.9 2390,1162 2404.1,1170.4 2420,1190 2433.4,1217.7 2445,1252 2455.4,1298.7 2461,1340 2466.4,1393.3 2470,1440 2473.7,1487.9 2478,1525 2484.7,1555.4 2495,1592 2506.7,1616.2 2524,1635 2543.4,1646.6 2560,1652 2580.1,1655.4 2600,1656 2624.1,1654.7 2686.4,1648.6"/>
<g fill="#e01818" stroke="#801010" stroke-width="2">
 <polygon points="1882.4,1605.8 1906.4,1605.8 1894.4,1625.8"/>
 <polygon points="1927.8,1609.2 1951.8,1609.2 1939.8,1629.2"/>
 <polygon points="1971.8,1605.8 1995.8,1605.8 1983.8,1625.8"/>
 <polygon points="2016.6,1659.9 2040.6,1659.9 2028.6,1679.9"/>
 <polygon points="2062.8,1622 2086.8,1622 2074.8,1642"/>
 <polygon points="2109.7,1609.2 2133.7,1609.2 2121.7,1629.2"/>
 <polygon points="2158.1,1609.2 2182.1,1609.2 2170.1,1629.2"/>
 <polygon points="2205.8,1495.7 2229.8,1495.7 2217.8,1515.7"/>
 <polygon points="2254.2,1308 2278.2,1308 2266.2,1328"/>
 <polygon points="2304.1,1154.7 2328.1,1154.7 2316.1,1174.7"/>
 <circle cx="2071.8" cy="1612.8" r="10.5"/><circle cx="2112.9" cy="1658.1" r="10.5"/><circle cx="2156.9" cy="1546.6" r="10.5"/>
 <circle cx="2200.9" cy="1477.7" r="10.5"/><circle cx="2244.9" cy="1378.4" r="10.5"/><circle cx="2291.1" cy="1199.5" r="10.5"/>
 <circle cx="2337.3" cy="1148.8" r="10.5"/><circle cx="2383.5" cy="1113" r="10.5"/><circle cx="2431.2" cy="1278.5" r="10.5"/>
 <circle cx="2480.3" cy="1451.4" r="10.5"/><circle cx="2530.2" cy="1687.1" r="10.5"/>
 <polygon points="2281.6,1356.6 2293.6,1376.6 2269.6,1376.6"/>
 <polygon points="2319.7,1098.6 2331.7,1118.6 2307.7,1118.6"/>
 <polygon points="2357.9,1203.3 2369.9,1223.3 2345.9,1223.3"/>
 <polygon points="2396.7,1216.8 2408.7,1236.8 2384.7,1236.8"/>
 <polygon points="2437.1,1320.2 2449.1,1340.2 2425.1,1340.2"/>
 <polygon points="2477.4,1500.5 2489.4,1520.5 2465.4,1520.5"/>
 <polygon points="2517.7,1696.4 2529.7,1716.4 2505.7,1716.4"/>
 <polygon points="2559.5,1596.4 2571.5,1616.4 2547.5,1616.4"/>
 <polygon points="2602.1,1689.6 2614.1,1709.6 2590.1,1709.6"/>
 <polygon points="2644.6,1691.6 2656.6,1711.6 2632.6,1711.6"/>
 <polygon points="2686.4,1637.6 2698.4,1657.6 2674.4,1657.6"/>
</g>

<!-- ===================== Right WAXS / GIWAXS ===================== -->
<rect x="3040" y="997" width="292" height="383" fill="url(#waxs)"/>
<ellipse cx="3182" cy="1292" rx="75" ry="36" fill="url(#wglow)"/>
<ellipse cx="3160" cy="1288" rx="28" ry="18" fill="url(#wglow)"/>
<ellipse cx="3205" cy="1288" rx="28" ry="18" fill="url(#wglow)"/>
<rect x="3168" y="1300" width="28" height="80" fill="#f08030" opacity="0.5"/>
<rect x="3176" y="1290" width="12" height="90" fill="url(#wstripe)"/>
<rect x="3125" y="1252" width="110" height="81" fill="none" stroke="#111" stroke-width="5"/>
<text x="3186" y="1056" font-size="46" fill="#fff" text-anchor="middle" textLength="153" lengthAdjust="spacingAndGlyphs">WAXS</text>

<svg x="3040" y="1401" width="292" height="384" viewBox="3040 1401 292 384" overflow="hidden">
 <rect x="3040" y="1401" width="292" height="384" fill="url(#gix)"/>
 <rect x="3040" y="1768" width="292" height="17" fill="#0818b0"/>
 <rect x="3040" y="1766" width="292" height="2.5" fill="#70b8ff"/>
 <ellipse cx="3182" cy="1652" rx="52" ry="32" fill="url(#gblob)"/>
 <ellipse cx="3182" cy="1654" rx="32" ry="20" fill="#c80800"/>
 <path d="M3140,1401 Q3172,1560 3182,1718 Q3192,1560 3226,1401 Z" fill="#0a0a90"/>
 <path d="M3174,1650 Q3179,1690 3182,1718 Q3185,1690 3190,1650 Z" fill="#801010" opacity="0.7"/>
 <path d="M3128,1749 L3162,1748 L3158,1771 L3130,1772 Z" fill="#b01008" stroke="#f0d0c0" stroke-width="2.5"/>
 <ellipse cx="3210" cy="1756" rx="12" ry="4" fill="#e0f0ff" transform="rotate(15 3210 1756)"/>
 <line x1="3073" y1="1652" x2="3120" y2="1652" stroke="#111" stroke-width="10"/>
 <polygon points="3112,1634 3144,1652 3112,1670" fill="#111"/>
 <text x="3185" y="1463" font-size="46" fill="#fff" text-anchor="middle" textLength="217" lengthAdjust="spacingAndGlyphs">GIWAXS</text>
</svg>
<g fill="none" stroke="#000" stroke-width="4">
 <rect x="3040" y="997" width="292" height="383"/>
 <rect x="3040" y="1401" width="292" height="384"/>
</g>
<g stroke="#000" stroke-width="3">
 <path d="M3026,1043 H3040 M3026,1107 H3040 M3026,1171 H3040 M3026,1234 H3040 M3026,1297 H3040 M3026,1361 H3040"/>
 <path d="M3026,1426 H3040 M3026,1483 H3040 M3026,1541 H3040 M3026,1597 H3040 M3026,1653 H3040 M3026,1710 H3040 M3026,1769 H3040"/>
 <path d="M3114.6,1785 V1797 M3180.4,1785 V1793 M3243.6,1785 V1797"/>
</g>
<g fill="#000" font-size="42" text-anchor="end">
 <text x="3003" y="1057" textLength="64" lengthAdjust="spacingAndGlyphs">1.2</text>
 <text x="3003" y="1121" textLength="64" lengthAdjust="spacingAndGlyphs">1.0</text>
 <text x="3003" y="1185" textLength="64" lengthAdjust="spacingAndGlyphs">0.8</text>
 <text x="3003" y="1248" textLength="64" lengthAdjust="spacingAndGlyphs">0.6</text>
 <text x="3003" y="1311" textLength="64" lengthAdjust="spacingAndGlyphs">0.4</text>
 <text x="3003" y="1375" textLength="64" lengthAdjust="spacingAndGlyphs">0.2</text>
 <text x="3003" y="1440" textLength="64" lengthAdjust="spacingAndGlyphs">1.2</text>
 <text x="3003" y="1497" textLength="64" lengthAdjust="spacingAndGlyphs">1.0</text>
 <text x="3003" y="1555" textLength="64" lengthAdjust="spacingAndGlyphs">0.8</text>
 <text x="3003" y="1611" textLength="64" lengthAdjust="spacingAndGlyphs">0.6</text>
 <text x="3003" y="1667" textLength="64" lengthAdjust="spacingAndGlyphs">0.4</text>
 <text x="3003" y="1724" textLength="64" lengthAdjust="spacingAndGlyphs">0.2</text>
 <text x="3003" y="1783" textLength="22" lengthAdjust="spacingAndGlyphs">0</text>
</g>
<g fill="#000" font-size="42" text-anchor="middle">
 <text x="3116" y="1839" textLength="105" lengthAdjust="spacingAndGlyphs">− 0.2</text>
 <text x="3244" y="1839" textLength="64" lengthAdjust="spacingAndGlyphs">0.2</text>
 <text x="3185" y="1909" font-size="44" textLength="181" lengthAdjust="spacingAndGlyphs"><tspan font-style="italic">q</tspan><tspan font-style="italic" font-size="30" dy="8">xy</tspan><tspan dy="-8">/Å</tspan><tspan font-size="30" dy="-18">−1</tspan></text>
 <text transform="translate(2886,1180) rotate(-90)" font-size="44" textLength="160" lengthAdjust="spacingAndGlyphs"><tspan font-style="italic">q</tspan><tspan font-style="italic" font-size="30" dy="8">z</tspan><tspan dy="-8">/Å</tspan><tspan font-size="30" dy="-18">−1</tspan></text>
 <text transform="translate(2886,1590) rotate(-90)" font-size="44" textLength="160" lengthAdjust="spacingAndGlyphs"><tspan font-style="italic">q</tspan><tspan font-style="italic" font-size="30" dy="8">z</tspan><tspan dy="-8">/Å</tspan><tspan font-size="30" dy="-18">−1</tspan></text>
</g>
</svg>
</body></html>
